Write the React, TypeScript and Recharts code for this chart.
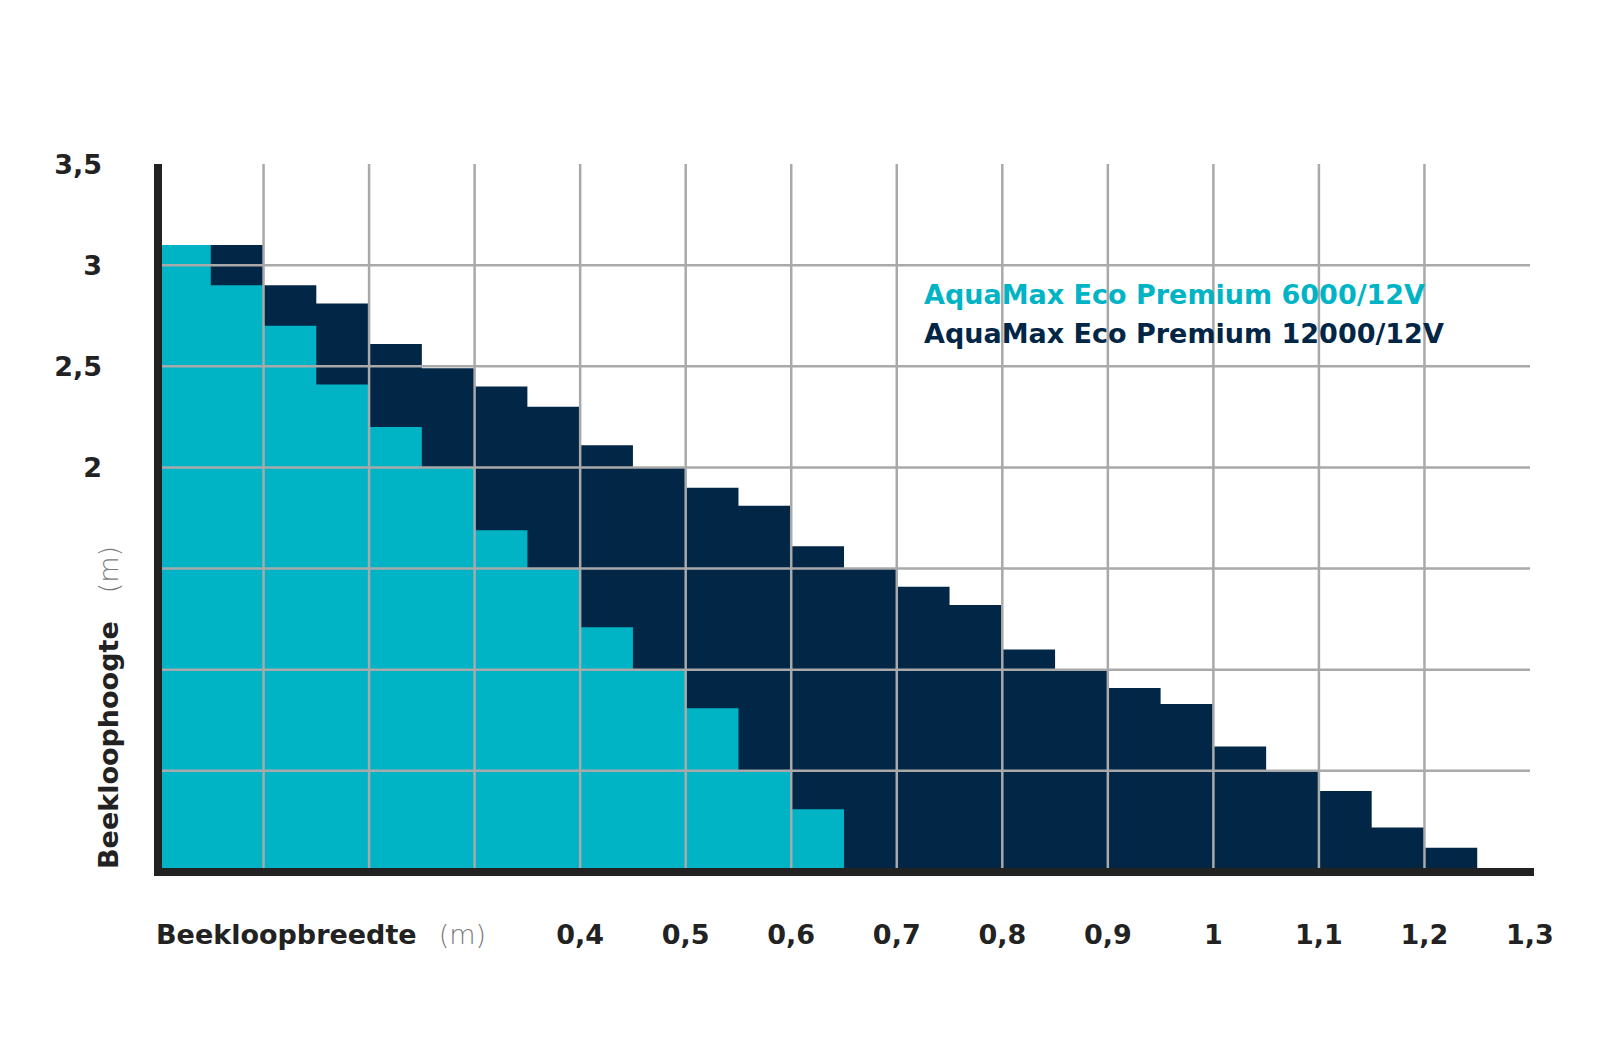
import React from 'react';
import { ComposedChart, Area, XAxis, YAxis, ReferenceLine, Legend, Label } from 'recharts';

// Beekloopbreedte (m) – start of each 0.05 m step
const widthsM = [0, 0.05, 0.1, 0.15, 0.2, 0.25, 0.3, 0.35, 0.4, 0.45, 0.5, 0.55, 0.6, 0.65, 0.7, 0.75, 0.8, 0.85, 0.9, 0.95, 1.0, 1.05, 1.1, 1.15, 1.2, 1.25, 1.3];
// Beekloophoogte (m) per pump
const height6000 = [3.1, 2.9, 2.7, 2.41, 2.2, 2.0, 1.69, 1.5, 1.21, 1.0, 0.81, 0.5, 0.31, 0, 0, 0, 0, 0, 0, 0, 0, 0, 0, 0, 0, 0, 0];
const height12000 = [3.1, 3.1, 2.9, 2.81, 2.61, 2.49, 2.4, 2.3, 2.11, 2.0, 1.9, 1.81, 1.61, 1.5, 1.41, 1.32, 1.1, 1.0, 0.91, 0.83, 0.62, 0.5, 0.4, 0.22, 0.12, 0, 0];

const xTicks = [0, 0.1, 0.2, 0.3, 0.4, 0.5, 0.6, 0.7, 0.8, 0.9, 1.0, 1.1, 1.2, 1.3];
const xTickLabels = ['', '', '', '', '0,4', '0,5', '0,6', '0,7', '0,8', '0,9', '1', '1,1', '1,2', '1,3'];
const yTicks = [0, 0.5, 1, 1.5, 2, 2.5, 3, 3.5];
const yTickLabels = ['', '', '', '', '2', '2,5', '3', '3,5'];
const gridX = [0.1, 0.2, 0.3, 0.4, 0.5, 0.6, 0.7, 0.8, 0.9, 1.0, 1.1, 1.2];
const gridY = [0.5, 1, 1.5, 2, 2.5, 3];

const series6000 = 'AquaMax Eco Premium 6000/12V';
const series12000 = 'AquaMax Eco Premium 12000/12V';
const legendOrder = [series6000, series12000];

const CYAN = '#00b4c6';
const NAVY = '#022645';
const TEXT = '#222222';
const GRID = '#a9a9a9';
const FONT = '"DejaVu Sans", Verdana, sans-serif';

const data = widthsM.map((w, i) => ({ w, h6000: height6000[i], h12000: height12000[i] }));

const XTick = (props: any) => {
  const { x, y, payload } = props;
  const idx = xTicks.indexOf(payload.value);
  const label = idx >= 0 ? xTickLabels[idx] : '';
  if (!label) return <g />;
  return (
    <text x={x} y={y} dy="0.71em" textAnchor="middle" fontFamily={FONT} fontWeight={700} fontSize={27} fill={TEXT}>
      {label}
    </text>
  );
};

const YTick = (props: any) => {
  const { x, y, payload } = props;
  const idx = yTicks.indexOf(payload.value);
  const label = idx >= 0 ? yTickLabels[idx] : '';
  if (!label) return <g />;
  return (
    <text x={x} y={y} dy="0.36em" textAnchor="end" fontFamily={FONT} fontWeight={700} fontSize={27} fill={TEXT}>
      {label}
    </text>
  );
};

const XTitle = (props: any) => {
  const vb = props.viewBox || {};
  return (
    <text x={vb.x - 2} y={vb.y + 53} dy="0.71em" fontFamily={FONT} fontSize={27} fill={TEXT}>
      <tspan fontWeight={700}>Beekloopbreedte</tspan>
      <tspan dx={22} fontWeight={200} fill="#7a7a7a">(m)</tspan>
    </text>
  );
};

const YTitle = (props: any) => {
  const vb = props.viewBox || {};
  const cx = vb.x + 110;
  const cy = vb.y + vb.height - 3;
  return (
    <text x={cx} y={cy} transform={`rotate(-90, ${cx}, ${cy})`} fontFamily={FONT} fontSize={27} fill={TEXT}>
      <tspan fontWeight={700}>Beekloophoogte</tspan>
      <tspan dx={28} fontWeight={200} fill="#7a7a7a">(m)</tspan>
    </text>
  );
};

const colorOf: Record<string, string> = { [series6000]: CYAN, [series12000]: NAVY };

const LegendContent = (props: any) => {
  const payload = (props.payload || []).slice().sort(
    (a: any, b: any) => legendOrder.indexOf(a.value) - legendOrder.indexOf(b.value)
  );
  return (
    <div style={{ fontFamily: FONT, fontWeight: 700, fontSize: 27, lineHeight: '39px', whiteSpace: 'nowrap' }}>
      {payload.map((p: any) => (
        <div key={p.value} style={{ color: colorOf[p.value] }}>{p.value}</div>
      ))}
    </div>
  );
};

export default function App() {
  return (
    <div style={{ width: 1592, height: 1026, background: '#ffffff' }}>
      <ComposedChart
        width={1592}
        height={1026}
        data={data}
        margin={{ top: 156, right: 70, bottom: 0, left: 0 }}
      >
        <XAxis
          type="number"
          dataKey="w"
          domain={[0, 1.3]}
          ticks={xTicks}
          interval={0}
          tickLine={false}
          tickSize={0}
          tickMargin={53}
          height={162}
          axisLine={{ stroke: TEXT, strokeWidth: 8, strokeLinecap: 'square' }}
          tick={<XTick />}
        >
          <Label content={<XTitle />} />
        </XAxis>
        <YAxis
          type="number"
          domain={[0, 3.5]}
          ticks={yTicks}
          interval={0}
          tickLine={false}
          tickSize={0}
          tickMargin={56}
          width={150}
          axisLine={{ stroke: TEXT, strokeWidth: 8 }}
          tick={<YTick />}
        >
          <Label content={<YTitle />} />
        </YAxis>
        <Area
          name={series12000}
          type="stepAfter"
          dataKey="h12000"
          fill={NAVY}
          fillOpacity={1}
          stroke="none"
          dot={false}
          activeDot={false}
          isAnimationActive={false}
        />
        <Area
          name={series6000}
          type="stepAfter"
          dataKey="h6000"
          fill={CYAN}
          fillOpacity={1}
          stroke="none"
          dot={false}
          activeDot={false}
          isAnimationActive={false}
        />
        {gridX.map((v) => (
          <ReferenceLine key={`gx${v}`} x={v} stroke={GRID} strokeWidth={2.5} />
        ))}
        {gridY.map((v) => (
          <ReferenceLine key={`gy${v}`} y={v} stroke={GRID} strokeWidth={2.5} />
        ))}
        <Legend
          layout="vertical"
          align="center"
          verticalAlign="middle"
          content={<LegendContent />}
          wrapperStyle={{ left: 916, top: 267, width: 'auto', margin: 0, padding: 0 }}
        />
      </ComposedChart>
    </div>
  );
}
